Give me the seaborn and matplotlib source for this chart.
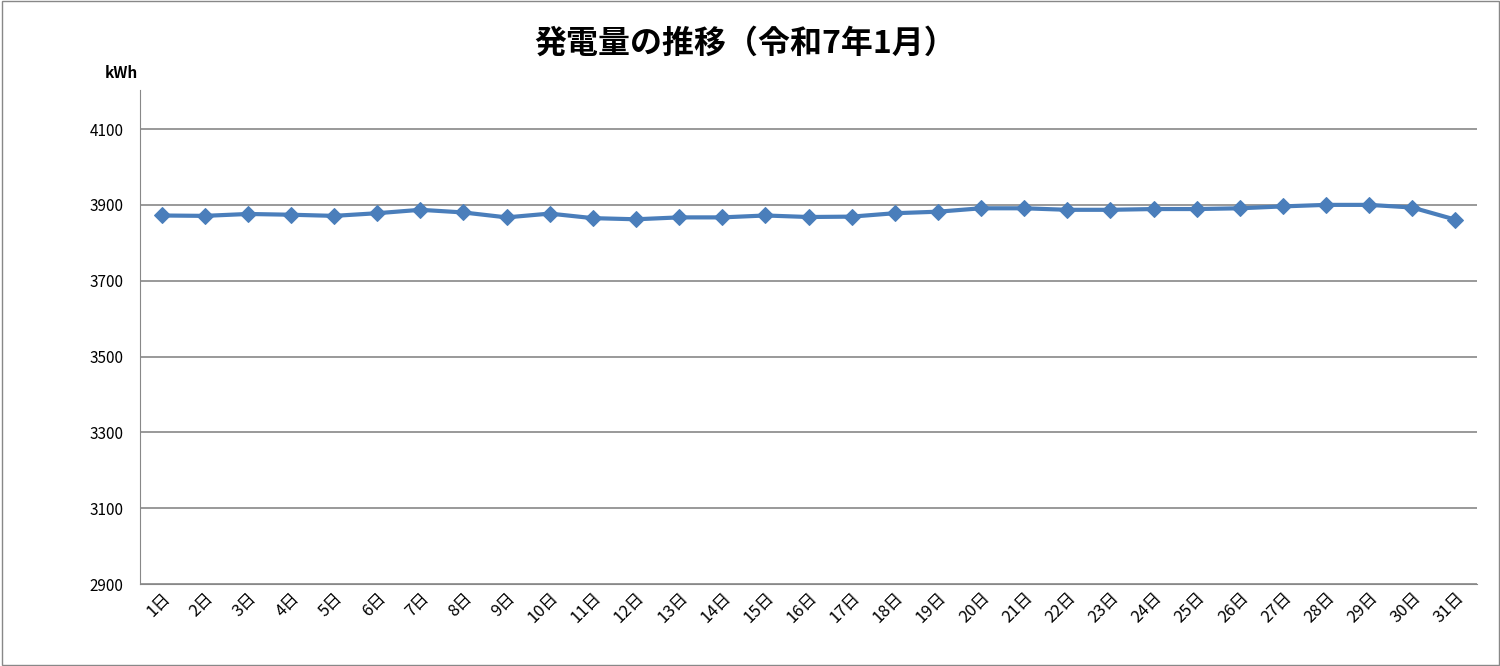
import matplotlib
matplotlib.use("Agg")
import matplotlib.pyplot as plt
import seaborn as sns
import pandas as pd

plt.rcParams["font.family"] = ["Noto Sans CJK JP", "DejaVu Sans"]

days = [f"{i}日" for i in range(1, 32)]
kwh = [3872, 3871, 3876, 3874, 3871, 3878, 3887, 3880, 3867, 3877,
       3865, 3862, 3867, 3867, 3872, 3868, 3869, 3878, 3882, 3891,
       3891, 3887, 3887, 3889, 3889, 3891, 3896, 3900, 3900, 3893, 3861]
yticks = [2900, 3100, 3300, 3500, 3700, 3900, 4100]

df = pd.DataFrame({"day": days, "kwh": kwh})

fig = plt.figure(figsize=(15, 6.66), dpi=100)
ax = fig.add_axes([140 / 1500, 82 / 666, 1337 / 1500, 494 / 666])
sns.lineplot(data=df, x="day", y="kwh", ax=ax, color="#4a7ebb", linewidth=3,
             marker="D", markersize=8, markeredgecolor="#4a7ebb", sort=False)
ax.set_xlim(-0.5, 30.5)
ax.set_ylim(2900, 4203)
ax.set_yticks(yticks)
ax.set_yticklabels([str(v) for v in yticks], fontsize=11)
ax.grid(axis="y", color="#888888", linewidth=1.2)
ax.set_axisbelow(True)
for s in ["top", "right"]:
    ax.spines[s].set_visible(False)
ax.spines["left"].set_color("#888888")
ax.spines["bottom"].set_color("#888888")
ax.tick_params(axis="y", length=0, pad=12)
ax.tick_params(axis="x", length=0, pad=4)
plt.setp(ax.get_xticklabels(), rotation=45, ha="right", rotation_mode="anchor", fontsize=12)
ax.set_xlabel("")
ax.set_ylabel("")
fig.text(0.07, 0.891, "kWh", fontsize=11, fontweight="bold", ha="left", va="center")
fig.text(0.497, 0.935, "発電量の推移（令和7年1月）", fontsize=23, fontweight="bold",
         ha="center", va="center")
fig.patches.append(plt.Rectangle((0.001, 0.002), 0.998, 0.996, transform=fig.transFigure,
                                 fill=False, edgecolor="#888888", linewidth=1))
fig.savefig("out.png", dpi=100)
